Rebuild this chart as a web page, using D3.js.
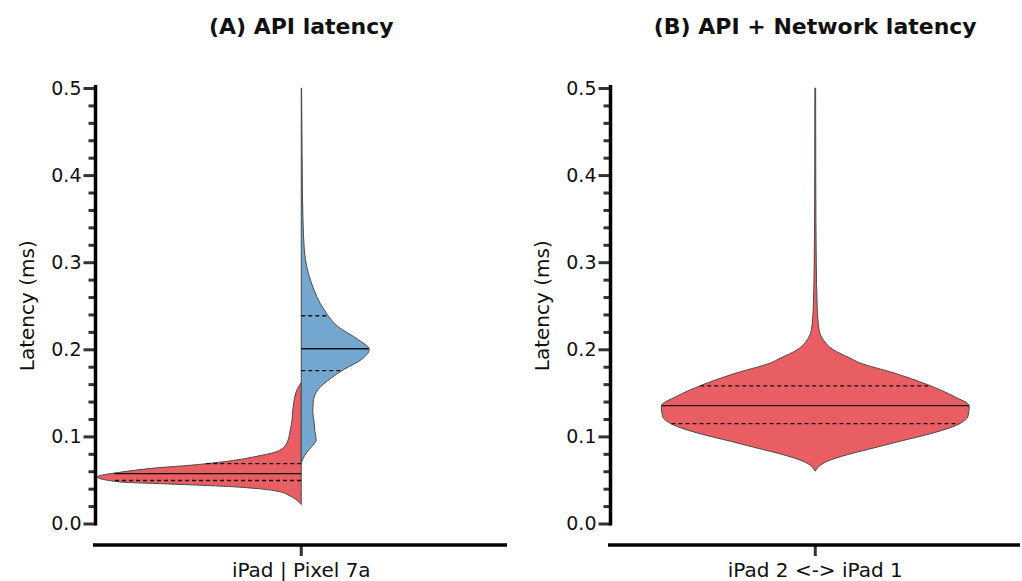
<!DOCTYPE html>
<html>
<head>
<meta charset="utf-8">
<script src="https://cdn.jsdelivr.net/npm/d3@7"></script>
<style>
  body { margin: 0; background: #fff; }
  text { font-family: "DejaVu Sans", sans-serif; fill: #111; }
</style>
</head>
<body>
<div id="container"></div>
<script>
// panel texts
var panelTitles = ["(A) API latency", "(B) API + Network latency"];
var xLabels = ["iPad | Pixel 7a", "iPad 2 <-> iPad 1"];
var majorTicks = [0.0, 0.1, 0.2, 0.3, 0.4, 0.5];
var minorTicks = [0.02, 0.04, 0.06, 0.08, 0.12, 0.14, 0.16, 0.18, 0.22, 0.24, 0.26, 0.28,
                  0.32, 0.34, 0.36, 0.38, 0.42, 0.44, 0.46, 0.48];

// (A) iPad, left half - latency (ms) and kde density
var ipadLatency = [0.0218, 0.0313, 0.037, 0.0401, 0.0428, 0.0444, 0.0459, 0.0474, 0.0535,
                   0.0593, 0.0639, 0.0669, 0.0708, 0.0772, 0.0829, 0.0925, 0.108, 0.119,
                   0.13, 0.139, 0.15, 0.157, 0.162];
var ipadDensity = [0, 1.6, 3.5, 6.5, 11.5, 16.3, 21.2, 26.2, 30.0,
                   26.2, 21.2, 16.3, 11.5, 6.5, 3.5, 2.1, 1.6, 1.35,
                   1.25, 1.1, 0.8, 0.4, 0];
var ipadQuartiles = [0.0493, 0.0573, 0.0688];

// (A) Pixel 7a, right half
var pixelLatency = [0.07, 0.081, 0.088, 0.096, 0.106, 0.116, 0.128, 0.139, 0.154, 0.167,
                    0.177, 0.188, 0.2, 0.211, 0.226, 0.245, 0.276, 0.314, 0.35, 0.4, 0.45, 0.5];
var pixelDensity = [0, 0.75, 1.5, 2.2, 2.0, 1.9, 1.7, 1.75, 2.5, 4.4,
                    6.3, 8.8, 10.0, 8.4, 5.4, 3.4, 1.5, 0.45, 0.25, 0.15, 0.1, 0.05];
var pixelQuartiles = [0.1755, 0.2007, 0.2385];

// (B) iPad 2 <-> iPad 1, full violin
var netLatency = [0.06, 0.0657, 0.0715, 0.079, 0.085, 0.0944, 0.104, 0.1135, 0.123, 0.135,
                  0.146, 0.1594, 0.173, 0.1843, 0.19, 0.1995, 0.211, 0.2225, 0.249, 0.299,
                  0.35, 0.4, 0.5];
var netDensity = [0, 0.3, 0.95, 2.5, 4.1, 6.6, 9.2, 11.1, 11.9, 12.0,
                  10.8, 8.75, 6.1, 3.5, 2.7, 1.4, 0.62, 0.3, 0.15, 0.08,
                  0.05, 0.04, 0.03];
var netQuartiles = [0.1147, 0.1353, 0.158];

var red = "#e95e63", blue = "#73a7cf";

var svg = d3.select('#container').append('svg')
  .attr('width', 1022)
  .attr('height', 581);

var y = d3.scaleLinear().domain([0, 0.5]).range([523.5, 88]);

var panels = [
  {x0: 95.5, x1: 507, title: panelTitles[0], label: xLabels[0], wmax: 30, wpx: 204},
  {x0: 610.5, x1: 1020, title: panelTitles[1], label: xLabels[1], wmax: 12, wpx: 154}
];

panels.forEach(function(p) {
  p.x = d3.scaleBand().domain([p.label]).range([p.x0, p.x1]);
  p.cx = p.x(p.label) + p.x.bandwidth() / 2;
  p.w = d3.scaleLinear().domain([0, p.wmax]).range([0, p.wpx]);
});

// density at a latency value, linear between read points
function densityAt(ys, ds, v) {
  var i = d3.bisectRight(ys, v);
  if (i <= 0 || i >= ys.length) return 0;
  var t = (v - ys[i - 1]) / (ys[i] - ys[i - 1]);
  return ds[i - 1] + t * (ds[i] - ds[i - 1]);
}

function drawHalf(p, ys, ds, side, color) {
  var pts = ys.map(function(v, i) { return [v, ds[i]]; });
  var area = d3.area()
    .curve(d3.curveMonotoneY)
    .y(function(d) { return y(d[0]); })
    .x0(p.cx)
    .x1(function(d) { return p.cx + side * p.w(d[1]); });
  svg.append('path')
    .datum(pts)
    .attr('d', area)
    .attr('fill', color)
    .attr('stroke', '#4a4a4a')
    .attr('stroke-width', 1)
    .attr('stroke-linejoin', 'round');
}

function drawFull(p, ys, ds, color) {
  var pts = ys.map(function(v, i) { return [v, ds[i]]; });
  var area = d3.area()
    .curve(d3.curveMonotoneY)
    .y(function(d) { return y(d[0]); })
    .x0(function(d) { return p.cx - p.w(d[1]); })
    .x1(function(d) { return p.cx + p.w(d[1]); });
  svg.append('path')
    .datum(pts)
    .attr('d', area)
    .attr('fill', color)
    .attr('stroke', '#4a4a4a')
    .attr('stroke-width', 1);
}

function drawQuartiles(p, ys, ds, qs, left, right) {
  svg.append('g').selectAll('line')
    .data(qs)
    .enter().append('line')
    .attr('x1', function(d) { return left ? p.cx - p.w(densityAt(ys, ds, d)) : p.cx; })
    .attr('x2', function(d) { return right ? p.cx + p.w(densityAt(ys, ds, d)) : p.cx; })
    .attr('y1', function(d) { return y(d); })
    .attr('y2', function(d) { return y(d); })
    .attr('stroke', '#111')
    .attr('stroke-width', 1.4)
    .attr('stroke-dasharray', function(d, i) { return i == 1 ? null : '4,3'; });
}

// violins
drawHalf(panels[0], ipadLatency, ipadDensity, -1, red);
drawHalf(panels[0], pixelLatency, pixelDensity, 1, blue);
drawQuartiles(panels[0], ipadLatency, ipadDensity, ipadQuartiles, true, false);
drawQuartiles(panels[0], pixelLatency, pixelDensity, pixelQuartiles, false, true);

drawFull(panels[1], netLatency, netDensity, red);
drawQuartiles(panels[1], netLatency, netDensity, netQuartiles, true, true);

// axes
panels.forEach(function(p) {
  var g = svg.append('g');

  var minor = g.append('g')
    .attr('transform', 'translate(' + p.x0 + ',0)')
    .call(d3.axisLeft(y).tickValues(minorTicks).tickSize(7).tickFormat(''));
  var major = g.append('g')
    .attr('transform', 'translate(' + p.x0 + ',0)')
    .call(d3.axisLeft(y).tickValues(majorTicks).tickSize(12).tickPadding(2)
      .tickFormat(d3.format('.1f')));
  [minor, major].forEach(function(a) {
    a.select('.domain').remove();
    a.selectAll('.tick line').attr('stroke', '#333').attr('stroke-width', 3);
    a.selectAll('.tick text').style('font-size', '19px').attr('fill', '#111');
  });

  g.append('line')
    .attr('x1', p.x0).attr('x2', p.x0)
    .attr('y1', y(0.5) - 3).attr('y2', y(0) + 2)
    .attr('stroke', '#000').attr('stroke-width', 3.5);

  var bottom = g.append('g')
    .attr('transform', 'translate(0,545)')
    .call(d3.axisBottom(p.x).tickSize(11).tickPadding(7));
  bottom.select('.domain').remove();
  bottom.selectAll('.tick line').attr('stroke', '#333').attr('stroke-width', 3);
  bottom.selectAll('.tick text').style('font-size', '20px').attr('fill', '#111');

  g.append('line')
    .attr('x1', p.x0 - 2.5).attr('x2', p.x1)
    .attr('y1', 545).attr('y2', 545)
    .attr('stroke', '#000').attr('stroke-width', 3.5);

  svg.append('text')
    .attr('x', p.cx).attr('y', 34)
    .attr('text-anchor', 'middle')
    .style('font-size', '22px').style('font-weight', 'bold')
    .text(p.title);

  svg.append('text')
    .attr('transform', 'translate(' + (p.x0 - 62) + ',' + y(0.25) + ') rotate(-90)')
    .attr('text-anchor', 'middle')
    .style('font-size', '20px')
    .text('Latency (ms)');
});
</script>
</body>
</html>
